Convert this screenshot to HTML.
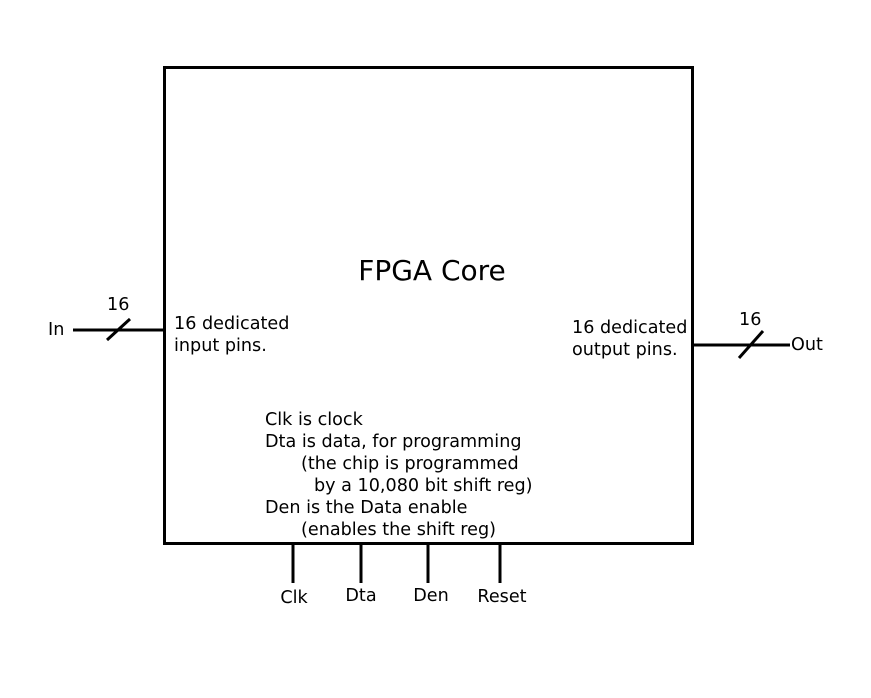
<!DOCTYPE html>
<html><head><style>body{margin:0;background:#fff}</style></head><body>
<svg width="871" height="693" xmlns="http://www.w3.org/2000/svg" font-family="DejaVu Sans, sans-serif" font-size="17.6" fill="#000">
<rect x="0" y="0" width="871" height="693" fill="#fff"/>
<rect x="164.5" y="67.5" width="528" height="476" fill="none" stroke="#000" stroke-width="3"/>
<text x="432" y="280" font-size="28" text-anchor="middle">FPGA Core</text>
<line x1="73" y1="330" x2="164" y2="330" stroke="#000" stroke-width="3"/>
<line x1="107" y1="340" x2="130" y2="319" stroke="#000" stroke-width="3"/>
<text x="107" y="310">16</text>
<text x="48" y="335">In</text>
<text x="174" y="329">16 dedicated</text>
<text x="174" y="351">input pins.</text>
<line x1="692" y1="345" x2="790" y2="345" stroke="#000" stroke-width="3"/>
<line x1="739" y1="358" x2="763" y2="331" stroke="#000" stroke-width="3"/>
<text x="739" y="325">16</text>
<text x="791" y="350">Out</text>
<text x="572" y="333">16 dedicated</text>
<text x="572" y="355">output pins.</text>
<text x="265" y="425">Clk is clock</text>
<text x="265" y="447">Dta is data, for programming</text>
<text x="301" y="469">(the chip is programmed</text>
<text x="314" y="491">by a 10,080 bit shift reg)</text>
<text x="265" y="513">Den is the Data enable</text>
<text x="301" y="535">(enables the shift reg)</text>
<g stroke="#000" stroke-width="3">
<line x1="293" y1="544" x2="293" y2="583"/>
<line x1="361" y1="544" x2="361" y2="583"/>
<line x1="428" y1="544" x2="428" y2="583"/>
<line x1="500" y1="544" x2="500" y2="583"/>
</g>
<text x="294" y="603" text-anchor="middle">Clk</text>
<text x="361" y="601" text-anchor="middle">Dta</text>
<text x="431" y="601" text-anchor="middle">Den</text>
<text x="502" y="602" text-anchor="middle">Reset</text>
</svg>
</body></html>
